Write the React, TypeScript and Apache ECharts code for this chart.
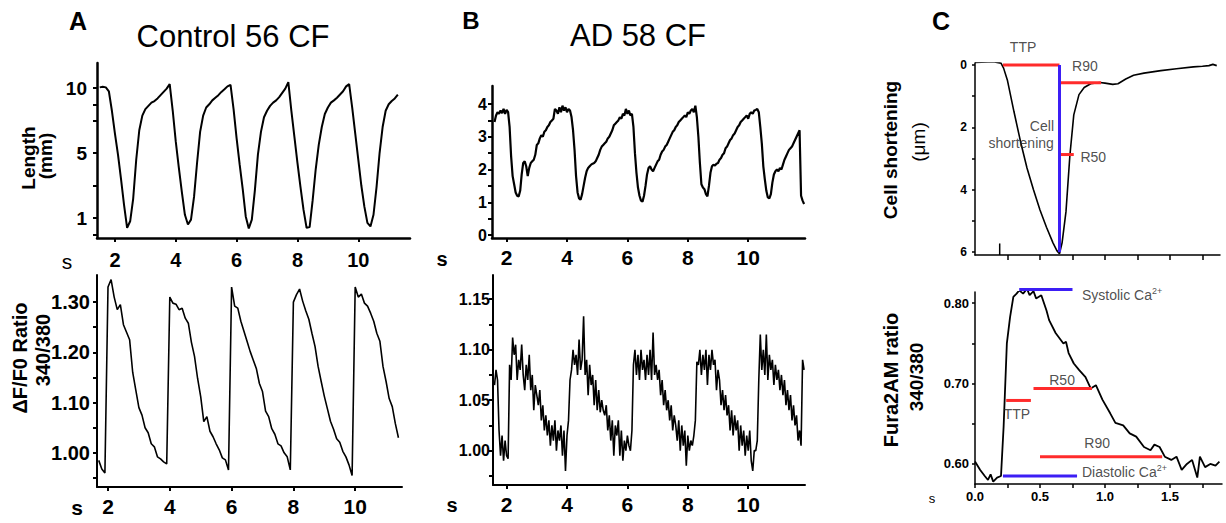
import React, { useEffect, useRef } from 'react';
import * as echarts from 'echarts';

const FONT = "'Liberation Sans', Arial, Helvetica, sans-serif";

// ---------- Panel A (Control 56 CF) ----------
// Length trace: sampled from t = 1.5 s every 0.1 s (axis units: 0 -> "1", 2 -> "5", 4 -> "10")
const aLengthStart = 1.5;
const aLengthStep = 0.1;
const aLength = [
  4.02, 4.04, 4.02, 3.9, 3.3, 2.6, 1.95, 1.2, 0.4, -0.3,
  -0.1, 0.6, 1.8, 2.7, 3.15, 3.35, 3.45, 3.55, 3.6, 3.68,
  3.78, 3.88, 3.98, 4.12, 3.3, 2.35, 1.55, 0.8, 0.1, -0.2,
  -0.05, 0.65, 1.7, 2.65, 3.15, 3.4, 3.5, 3.62, 3.7, 3.78,
  3.88, 3.96, 4.05, 4.1, 3.35, 2.45, 1.65, 0.9, 0.05, -0.32,
  -0.05, 0.85, 1.95, 2.65, 3.1, 3.3, 3.45, 3.55, 3.62, 3.72,
  3.85, 3.98, 4.18, 3.3, 2.5, 1.7, 0.95, 0.25, -0.3, -0.28,
  0.55, 1.5, 2.25, 2.8, 3.2, 3.4, 3.55, 3.62, 3.7, 3.8,
  3.9, 4.05, 4.12, 3.4, 2.6, 1.8, 1.0, 0.35, -0.15, -0.26,
  0.1, 0.95, 2.0, 2.8, 3.3, 3.5, 3.6, 3.68, 3.8,
];
const aLengthTicks = [-0.5, 0, 1, 2, 3, 3.5, 4];
const aLengthLabelValues = [0, 2, 4];
const aLengthLabels = ['1', '5', '10'];

// Ratio trace: sampled from t = 1.7 s every 0.1 s
const aRatioStart = 1.7;
const aRatioStep = 0.1;
const aRatio = [
  0.985, 0.968, 0.96, 1.33, 1.345, 1.31, 1.285, 1.295, 1.255, 1.24,
  1.225, 1.16, 1.125, 1.09, 1.075, 1.05, 1.04, 1.018, 1.012, 0.992,
  0.988, 0.982, 0.978, 1.31, 1.298, 1.296, 1.285, 1.288, 1.268, 1.258,
  1.22, 1.192, 1.148, 1.112, 1.062, 1.072, 1.043, 1.032, 1.018, 1.006,
  0.99, 0.986, 0.966, 1.33, 1.292, 1.288, 1.262, 1.242, 1.222, 1.202,
  1.185, 1.168, 1.138, 1.122, 1.083, 1.072, 1.048, 1.037, 1.018, 1.014,
  1.0, 0.992, 0.966, 1.3, 1.315, 1.326, 1.302, 1.283, 1.266, 1.238,
  1.212, 1.172, 1.142, 1.113, 1.088, 1.063, 1.047, 1.028, 1.021, 1.003,
  0.992, 0.976, 0.955, 1.33, 1.31, 1.316, 1.298, 1.292, 1.278, 1.262,
  1.238, 1.222, 1.172, 1.142, 1.108, 1.092, 1.058, 1.03,
];
const aRatioTicks = [0.95, 1.0, 1.05, 1.1, 1.15, 1.2, 1.25, 1.3];
const aRatioLabelValues = [1.0, 1.1, 1.2, 1.3];

const timeTicks = [2, 4, 6, 8, 10];

// ---------- Panel B (AD 58 CF) ----------
const bLengthStart = 1.6;
const bLengthStep = 0.05;
const bLength = [
  3.45, 3.65, 3.75, 3.7, 3.8, 3.72, 3.85, 3.7, 3.82, 3.75, 3.3, 2.4, 1.8, 1.55, 1.3, 1.2, 1.18, 1.35, 1.85, 2.2,
  2.25, 2.1, 1.8, 2.05, 2.2, 2.25, 2.3, 2.45, 2.75, 2.8, 2.95, 3.05, 3.0, 3.15, 3.2, 3.3, 3.35, 3.45, 3.5, 3.55,
  3.85, 3.8, 3.7, 3.9, 3.75, 3.95, 3.8, 3.9, 3.75, 3.85, 3.8, 3.6, 3.2, 2.6, 1.8, 1.3, 1.12, 1.08, 1.25, 1.5,
  1.75, 1.95, 2.05, 2.1, 2.15, 2.18, 2.2, 2.25, 2.35, 2.45, 2.6, 2.7, 2.75, 2.8, 2.85, 2.95, 3.0, 3.1, 3.2, 3.35,
  3.4, 3.45, 3.5, 3.6, 3.55, 3.7, 3.65, 3.85, 3.7, 3.8, 3.65, 3.7, 3.3, 2.5, 1.9, 1.45, 1.2, 1.05, 1.02, 1.2,
  1.5, 1.85, 2.05, 2.1, 2.0, 1.95, 2.05, 2.15, 2.25, 2.3, 2.45, 2.55, 2.6, 2.7, 2.75, 2.85, 2.95, 3.05, 3.15, 3.2,
  3.3, 3.35, 3.45, 3.5, 3.55, 3.6, 3.65, 3.6, 3.75, 3.7, 3.8, 3.85, 3.75, 3.95, 3.6, 3.0, 2.2, 1.55, 1.45, 1.4,
  1.25, 1.18, 1.5, 1.9, 2.1, 2.15, 2.12, 2.18, 2.2, 2.3, 2.35, 2.45, 2.5, 2.65, 2.7, 2.8, 2.9, 2.95, 3.05, 3.1,
  3.2, 3.3, 3.35, 3.45, 3.5, 3.55, 3.6, 3.65, 3.55, 3.7, 3.75, 3.7, 3.8, 3.82, 3.85, 3.75, 3.3, 2.8, 2.1, 1.7,
  1.35, 1.15, 1.12, 1.25, 1.6, 1.85, 1.95, 2.0, 1.95, 2.05, 2.0, 2.15, 2.3, 2.4, 2.5, 2.6, 2.65, 2.7, 2.8, 2.9,
  3.0, 3.1, 3.2, 1.2, 1.05, 0.95,
];
const bLengthTicks = [0, 0.5, 1, 1.5, 2, 2.5, 3, 3.5, 4];
const bLengthLabelValues = [0, 1, 2, 3, 4];

const bRatioStart = 1.6;
const bRatioStep = 0.05;
const bRatio = [
  1.065, 1.08, 1.07, 1.02, 0.995, 1.015, 0.99, 1.01, 0.995, 0.992, 1.085, 1.07, 1.112, 1.095, 1.105, 1.07, 1.09, 1.08, 1.105, 1.075,
  1.06, 1.085, 1.07, 1.095, 1.06, 1.075, 1.04, 1.065, 1.055, 1.045, 1.06, 1.03, 1.045, 1.02, 1.035, 1.015, 1.03, 1.005, 1.025, 1.01,
  1.03, 1.0, 1.02, 1.01, 1.025, 0.995, 1.02, 0.98, 1.015, 1.03, 1.07, 1.08, 1.1, 1.085, 1.095, 1.075, 1.11, 1.08, 1.09, 1.133,
  1.075, 1.09, 1.055, 1.085, 1.065, 1.075, 1.045, 1.07, 1.04, 1.06, 1.038, 1.05, 1.04, 1.035, 1.045, 1.02, 1.035, 1.01, 1.03, 0.995,
  1.025, 1.015, 1.03, 0.995, 1.02, 0.99, 1.01, 1.0, 1.015, 1.005, 1.0, 1.02, 1.085, 1.1, 1.075, 1.095, 1.07, 1.1, 1.08, 1.09,
  1.07, 1.095, 1.075, 1.1, 1.07, 1.117, 1.075, 1.085, 1.07, 1.08, 1.055, 1.07, 1.045, 1.06, 1.04, 1.05, 1.03, 1.045, 1.02, 1.035,
  1.025, 1.01, 1.03, 1.0, 1.025, 1.005, 1.02, 0.985, 1.015, 1.0, 1.01, 1.005, 1.015, 1.03, 1.088, 1.085, 1.1, 1.075, 1.095, 1.08,
  1.1, 1.065, 1.095, 1.08, 1.1, 1.085, 1.09, 1.06, 1.08, 1.07, 1.045, 1.06, 1.04, 1.055, 1.035, 1.045, 1.02, 1.04, 1.015, 1.035,
  1.02, 1.03, 1.0, 1.025, 1.005, 1.02, 0.995, 1.015, 1.0, 1.02, 0.99, 0.98, 1.0, 1.0, 1.01, 1.07, 1.115, 1.08, 1.1, 1.075,
  1.115, 1.07, 1.095, 1.08, 1.09, 1.065, 1.085, 1.07, 1.08, 1.06, 1.075, 1.055, 1.07, 1.045, 1.06, 1.04, 1.055, 1.03, 1.045, 1.025,
  1.035, 1.01, 1.02, 1.005, 1.09, 1.08,
];
const bRatioTicks = [0.975, 1.0, 1.025, 1.05, 1.075, 1.1, 1.125, 1.15];
const bRatioLabelValues = [1.0, 1.05, 1.1, 1.15];

// ---------- Panel C (single transient) ----------
const cShortening: [number, number][] = [
  [0, -0.08], [0.05, -0.09], [0.1, -0.1], [0.15, -0.1], [0.2, -0.06], [0.22, 0.1], [0.25, 0.5],
  [0.3, 1.5], [0.35, 2.45], [0.4, 3.3], [0.45, 4.0], [0.5, 4.65], [0.55, 5.2], [0.6, 5.7],
  [0.63, 5.95], [0.65, 6.05], [0.67, 5.7], [0.7, 4.7], [0.73, 2.9], [0.76, 1.6], [0.8, 0.95],
  [0.84, 0.72], [0.89, 0.6], [0.96, 0.56], [1.0, 0.58], [1.06, 0.62], [1.1, 0.6], [1.16, 0.45],
  [1.22, 0.33], [1.3, 0.26], [1.43, 0.18], [1.55, 0.12], [1.68, 0.06], [1.75, 0.04], [1.8, 0.02],
  [1.83, -0.02], [1.86, 0.02],
];
const cShortTicksX = [0.25, 0.5, 0.75, 1.0, 1.25, 1.5, 1.75];
const cShortTicksY = [0, 1, 2, 3, 4, 5, 6];
const cShortLabelValues = [0, 2, 4, 6];
const cTTP: [number, number][] = [[0.215, 0], [0.65, 0]];
const cPeak: [number, number][] = [[0.65, 0], [0.65, 6]];
const cR90: [number, number][] = [[0.65, 0.57], [0.97, 0.57]];
const cR50: [number, number][] = [[0.65, 2.87], [0.76, 2.87]];
const cStim: [number, number][] = [[0.19, 5.72], [0.19, 6.09]];
const cShortNotes = [
  { text: 'TTP', t: 0.37, v: -0.58, align: 'center' },
  { text: 'R90', t: 0.846, v: 0.03, align: 'center' },
  { text: 'Cell', t: 0.515, v: 1.96, align: 'center' },
  { text: 'shortening', t: 0.355, v: 2.5, align: 'center' },
  { text: 'R50', t: 0.91, v: 2.95, align: 'center' },
];

const cFura: [number, number][] = [
  [0, 0.603], [0.04, 0.5925], [0.075, 0.585], [0.1, 0.58], [0.12, 0.587], [0.14, 0.578],
  [0.17, 0.583], [0.2, 0.585], [0.22, 0.646], [0.245, 0.75], [0.27, 0.783], [0.295, 0.808],
  [0.32, 0.812], [0.34, 0.816], [0.37, 0.812], [0.4, 0.818], [0.42, 0.81], [0.45, 0.815],
  [0.47, 0.806], [0.51, 0.81], [0.55, 0.791], [0.57, 0.779], [0.62, 0.763], [0.68, 0.75],
  [0.7, 0.752], [0.72, 0.738], [0.76, 0.725], [0.8, 0.717], [0.85, 0.708], [0.89, 0.694],
  [0.93, 0.698], [0.98, 0.68], [1.04, 0.663], [1.08, 0.651], [1.14, 0.648], [1.19, 0.638],
  [1.24, 0.634], [1.3, 0.621], [1.35, 0.617], [1.38, 0.624], [1.42, 0.621], [1.46, 0.609],
  [1.51, 0.605], [1.55, 0.609], [1.59, 0.5925], [1.63, 0.6], [1.67, 0.605], [1.71, 0.583],
  [1.73, 0.609], [1.77, 0.596], [1.81, 0.6], [1.85, 0.598], [1.88, 0.603],
];
const cFuraTicksX = [0, 0.25, 0.5, 0.75, 1.0, 1.25, 1.5, 1.75];
const cFuraLabelsX = [0, 0.5, 1.0, 1.5];
const cFuraTicksY = [0.6, 0.65, 0.7, 0.75, 0.8];
const cFuraLabelsY = [0.6, 0.7, 0.8];
const cSystolic: [number, number][] = [[0.34, 0.817], [0.75, 0.817]];
const cDiastolic: [number, number][] = [[0.215, 0.585], [0.785, 0.585]];
const cFuraTTP: [number, number][] = [[0.24, 0.679], [0.43, 0.679]];
const cFuraR50: [number, number][] = [[0.45, 0.694], [0.9, 0.694]];
const cFuraR90: [number, number][] = [[0.5, 0.609], [1.44, 0.609]];
const cFuraNotes = [
  { text: 'Systolic Ca{sup|2+}', t: 0.823, v: 0.81, align: 'left' },
  { text: 'Diastolic Ca{sup|2+}', t: 0.823, v: 0.59, align: 'left' },
  { text: 'TTP', t: 0.323, v: 0.662, align: 'center' },
  { text: 'R50', t: 0.67, v: 0.705, align: 'center' },
  { text: 'R90', t: 0.94, v: 0.626, align: 'center' },
];

const RED = '#ff2b2b';
const BLUE = '#3c1ef5';

function sampled(start: number, step: number, values: number[]): [number, number][] {
  return values.map((v, i) => [+(start + i * step).toFixed(3), v]);
}

function xAxisDef(grid: number, min: number, max: number, opts: any) {
  return {
    type: 'value', gridIndex: grid, min, max,
    splitLine: { show: false },
    axisLine: { show: true, onZero: false, lineStyle: { color: '#000', width: opts.lineWidth ?? 2 } },
    axisTick: { show: true, customValues: opts.ticks, length: opts.tickLen ?? 4, lineStyle: { color: '#000', width: opts.tickWidth ?? 2 } },
    axisLabel: {
      show: opts.labels !== undefined,
      customValues: opts.labels,
      formatter: opts.formatter,
      color: '#000', fontFamily: FONT, fontWeight: 'bold',
      fontSize: opts.fontSize ?? 20, margin: opts.margin ?? 9,
    },
  };
}

function yAxisDef(grid: number, min: number, max: number, opts: any) {
  return {
    type: 'value', gridIndex: grid, min, max, inverse: !!opts.inverse,
    splitLine: { show: false },
    axisLine: { show: true, onZero: false, lineStyle: { color: '#000', width: opts.lineWidth ?? 2 } },
    axisTick: { show: true, customValues: opts.ticks, length: opts.tickLen ?? 4, lineStyle: { color: '#000', width: opts.tickWidth ?? 2 } },
    axisLabel: {
      show: true,
      customValues: opts.labels,
      formatter: opts.formatter,
      color: '#000', fontFamily: FONT, fontWeight: 'bold',
      fontSize: opts.fontSize ?? 18, margin: opts.margin ?? 8,
    },
  };
}

function trace(grid: number, data: [number, number][], width: number, color = '#000', z = 2, clip = true) {
  return {
    type: 'line', xAxisIndex: grid, yAxisIndex: grid, data, showSymbol: false, symbol: 'none',
    lineStyle: { color, width }, silent: true, z, clip, animation: false,
  };
}

function notes(grid: number, items: { text: string; t: number; v: number; align: string }[]) {
  return {
    type: 'scatter', xAxisIndex: grid, yAxisIndex: grid, clip: false, silent: true, symbolSize: 1, z: 5,
    itemStyle: { color: 'rgba(0,0,0,0)' },
    data: items.map((n) => ({
      value: [n.t, n.v], name: n.text,
      label: { align: n.align },
    })),
    label: {
      show: true, position: 'inside', formatter: '{b}', color: '#222', fontFamily: FONT, fontSize: 14,
      rich: { sup: { fontSize: 9, padding: [0, 0, 8, 0], color: '#222', fontFamily: FONT } },
    },
  };
}

function txt(text: string, x: number, y: number, fontSize: number, weight: string, rotate = false, align = 'center') {
  return {
    type: 'text', x, y, rotation: rotate ? Math.PI / 2 : 0, silent: true,
    style: { text, fontSize, fontWeight: weight, fontFamily: FONT, fill: '#000', align, verticalAlign: 'middle' },
  };
}

export default function App() {
  const ref = useRef<HTMLDivElement>(null);
  useEffect(() => {
    if (!ref.current) return;
    const chart = echarts.init(ref.current, null, { renderer: 'svg' });
    const fmt2 = (v: number) => v.toFixed(2);
    const lengthLabel = (v: number) => aLengthLabels[aLengthLabelValues.indexOf(v)] ?? '';
    const option: any = {
      animation: false,
      backgroundColor: '#fff',
      grid: [
        { left: 97, top: 63, width: 313, height: 175 },
        { left: 97, top: 275, width: 305, height: 212 },
        { left: 492, top: 86, width: 313, height: 152 },
        { left: 493, top: 275, width: 312, height: 210 },
        { left: 975, top: 63, width: 245, height: 192 },
        { left: 975, top: 292, width: 247, height: 192 },
      ],
      xAxis: [
        xAxisDef(0, 1.41, 11.7, { ticks: timeTicks, labels: timeTicks, fontSize: 20, margin: 12, lineWidth: 2.5 }),
        xAxisDef(1, 1.644, 11.515, { ticks: timeTicks, labels: timeTicks, fontSize: 21, margin: 9 }),
        xAxisDef(2, 1.517, 11.88, { ticks: timeTicks, labels: timeTicks, fontSize: 21, margin: 9, lineWidth: 2.5 }),
        xAxisDef(3, 1.55, 11.88, { ticks: timeTicks, labels: timeTicks, fontSize: 21, margin: 9 }),
        xAxisDef(4, 0, 1.885, { ticks: cShortTicksX, labels: undefined, lineWidth: 1.5, tickWidth: 1.5, tickLen: 5 }),
        xAxisDef(5, 0, 1.9, { ticks: cFuraTicksX, labels: cFuraLabelsX, formatter: (v: number) => v.toFixed(1), fontSize: 13, margin: 6, lineWidth: 1.5, tickWidth: 1.5, tickLen: 4 }),
      ],
      yAxis: [
        yAxisDef(0, -0.615, 4.77, { ticks: aLengthTicks, labels: aLengthLabelValues, formatter: lengthLabel, fontSize: 19, margin: 10, lineWidth: 2.5 }),
        yAxisDef(1, 0.932, 1.354, { ticks: aRatioTicks, labels: aRatioLabelValues, formatter: fmt2, fontSize: 20, margin: 7 }),
        yAxisDef(2, -0.09, 4.55, { ticks: bLengthTicks, labels: bLengthLabelValues, formatter: (v: number) => String(v), fontSize: 16, margin: 5, lineWidth: 2.5 }),
        yAxisDef(3, 0.966, 1.174, { ticks: bRatioTicks, labels: bRatioLabelValues, formatter: fmt2, fontSize: 16, margin: 3 }),
        yAxisDef(4, -0.064, 6.09, { inverse: true, ticks: cShortTicksY, labels: cShortLabelValues, formatter: (v: number) => String(v), fontSize: 12, margin: 8, lineWidth: 1.5, tickWidth: 1.5, tickLen: 3 }),
        yAxisDef(5, 0.575, 0.814, { ticks: cFuraTicksY, labels: cFuraLabelsY, formatter: fmt2, fontSize: 13, margin: 6, lineWidth: 1.5, tickWidth: 1.5, tickLen: 3 }),
      ],
      series: [
        trace(0, sampled(aLengthStart, aLengthStep, aLength), 2),
        trace(1, sampled(aRatioStart, aRatioStep, aRatio), 1.6),
        trace(2, sampled(bLengthStart, bLengthStep, bLength), 2.2),
        trace(3, sampled(bRatioStart, bRatioStep, bRatio), 1.6),
        trace(4, cShortening, 1.6),
        trace(4, cTTP, 3, RED, 3, false),
        trace(4, cR90, 3, RED, 3, false),
        trace(4, cR50, 3, RED, 3, false),
        trace(4, cPeak, 3, BLUE, 4, false),
        trace(4, cStim, 1.5, '#000', 2, false),
        notes(4, cShortNotes),
        trace(5, cFura, 1.8),
        trace(5, cSystolic, 3, BLUE, 3, false),
        trace(5, cDiastolic, 3, BLUE, 3, false),
        trace(5, cFuraTTP, 3, RED, 3, false),
        trace(5, cFuraR50, 3, RED, 3, false),
        trace(5, cFuraR90, 3, RED, 3, false),
        notes(5, cFuraNotes),
      ],
      graphic: [
        txt('A', 78, 21, 25, 'bold'),
        txt('Control 56 CF', 233, 36, 31, 'normal'),
        txt('B', 471, 20, 24, 'bold'),
        txt('AD 58 CF', 638, 35, 31, 'normal'),
        txt('C', 941, 21, 25, 'bold'),
        txt('Length', 28, 158, 19, 'bold', true),
        txt('(mm)', 45, 156, 19, 'bold', true),
        txt('ΔF/F0 Ratio', 20, 358, 20, 'bold', true),
        txt('340/380', 43, 350, 20, 'bold', true),
        txt('Cell shortening', 890, 150, 19, 'bold', true),
        txt('(μm)', 918, 142, 19, 'normal', true),
        txt('Fura2AM ratio', 891, 380, 20, 'bold', true),
        txt('340/380', 916, 377, 19, 'bold', true),
        txt('s', 67, 261, 21, 'normal'),
        txt('s', 77, 507, 21, 'bold'),
        txt('s', 442, 259, 20, 'bold'),
        txt('s', 452, 505, 20, 'bold'),
        txt('s', 932, 498, 13, 'normal'),
      ],
    };
    chart.setOption(option);
    return () => chart.dispose();
  }, []);
  return (
    <div
      ref={ref}
      style={{ position: 'fixed', left: 0, top: 0, width: 1226, height: 523, background: '#fff' }}
    />
  );
}
